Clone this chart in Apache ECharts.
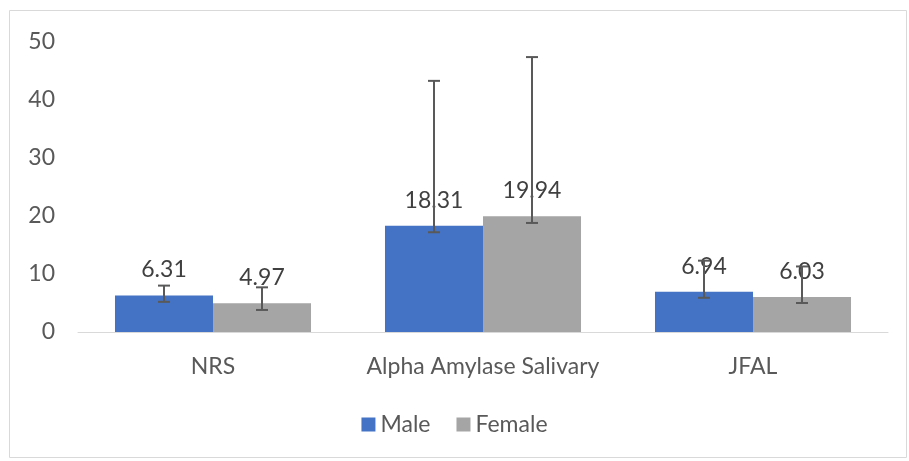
<!DOCTYPE html>
<html>
<head>
<meta charset="utf-8">
<script src="https://cdn.jsdelivr.net/npm/echarts@6/dist/echarts.min.js"></script>
<style>
  html, body { margin: 0; padding: 0; background: #fff; }
  #chart { width: 909px; height: 461px; }
</style>
</head>
<body>
<div id="chart"></div>
<script>
const categories = ['NRS', 'Alpha Amylase Salivary', 'JFAL'];
const maleValues = [6.31, 18.31, 6.94];
const femaleValues = [4.97, 19.94, 6.03];
// error bar ends
const maleLow = [5.2, 17.2, 5.9];
const maleHigh = [8.0, 43.3, 12.3];
const femaleLow = [3.8, 18.8, 5.0];
const femaleHigh = [7.7, 47.4, 11.3];

const FONT = 'Lato, "Open Sans", sans-serif';
const TEXT = '#595959';
const BAR_FRAC = 0.363;

const chart = echarts.init(document.getElementById('chart'));

// error bars drawn through the axis scales
function errorBars(low, high, side) {
  return {
    type: 'custom',
    silent: true,
    z: 10,
    data: categories.map((c, i) => [i, low[i], high[i]]),
    renderItem: function (params, api) {
      const band = api.size([1, 0])[0];
      const dx = side * band * BAR_FRAC / 2;
      const lo = api.coord([api.value(0), api.value(1)]);
      const hi = api.coord([api.value(0), api.value(2)]);
      const x = lo[0] + dx;
      const cap = 6;
      const style = { stroke: '#595959', lineWidth: 2 };
      return {
        type: 'group',
        children: [
          { type: 'line', shape: { x1: x, y1: lo[1], x2: x, y2: hi[1] }, style },
          { type: 'line', shape: { x1: x - cap, y1: lo[1], x2: x + cap, y2: lo[1] }, style },
          { type: 'line', shape: { x1: x - cap, y1: hi[1], x2: x + cap, y2: hi[1] }, style }
        ]
      };
    }
  };
}

const labelStyle = {
  show: true,
  position: 'top',
  distance: 14,
  color: '#404040',
  fontSize: 23,
  fontFamily: FONT,
  formatter: p => p.value.toFixed(2)
};

chart.setOption({
  animation: false,
  textStyle: { fontFamily: FONT },
  graphic: [{
    type: 'rect',
    shape: { x: 9.5, y: 10.5, width: 897, height: 447 },
    style: { fill: 'none', stroke: '#d9d9d9', lineWidth: 1 },
    silent: true
  }],
  grid: { left: 78, right: 21, top: 42, bottom: 129 },
  legend: {
    bottom: 20,
    left: 'center',
    itemWidth: 14,
    itemHeight: 14,
    itemGap: 26,
    icon: 'rect',
    data: ['Male', 'Female'],
    textStyle: { color: TEXT, fontSize: 23, fontFamily: FONT }
  },
  xAxis: {
    type: 'category',
    data: categories,
    axisLine: { lineStyle: { color: '#d9d9d9', width: 1 } },
    axisTick: { show: false },
    axisLabel: { color: TEXT, fontSize: 23, fontFamily: FONT, margin: 23, interval: 0, hideOverlap: false }
  },
  yAxis: {
    type: 'value',
    min: 0,
    max: 50,
    interval: 10,
    splitLine: { show: false },
    axisLine: { show: false },
    axisTick: { show: false },
    axisLabel: { color: TEXT, fontSize: 23, fontFamily: FONT, margin: 23 }
  },
  series: [
    {
      name: 'Male',
      type: 'bar',
      data: maleValues,
      barWidth: (BAR_FRAC * 100) + '%',
      barGap: '0%',
      itemStyle: { color: '#4472c4' },
      label: labelStyle
    },
    {
      name: 'Female',
      type: 'bar',
      data: femaleValues,
      barWidth: (BAR_FRAC * 100) + '%',
      barGap: '0%',
      itemStyle: { color: '#a5a5a5' },
      label: labelStyle
    },
    errorBars(maleLow, maleHigh, -1),
    errorBars(femaleLow, femaleHigh, 1)
  ]
});
</script>
</body>
</html>
